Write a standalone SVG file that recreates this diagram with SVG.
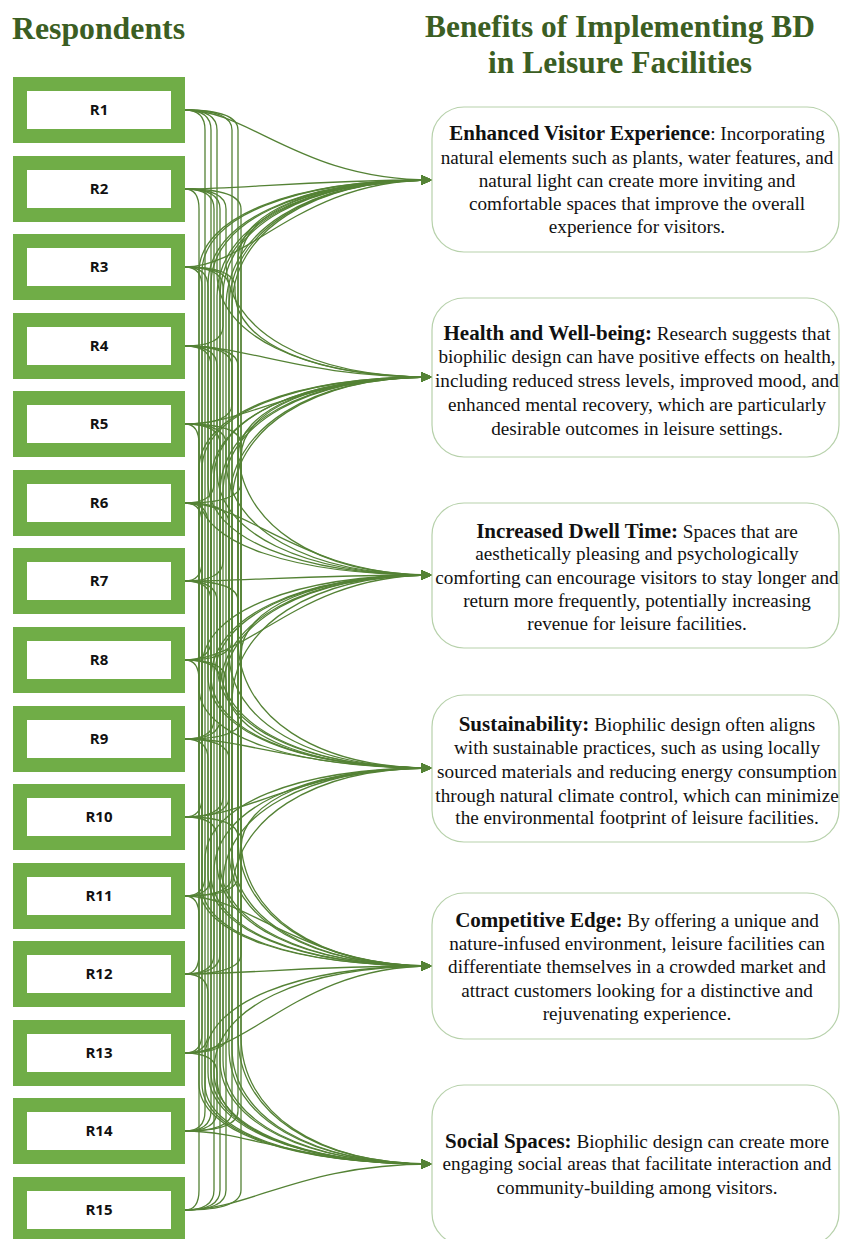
<svg xmlns="http://www.w3.org/2000/svg" width="841" height="1239" viewBox="0 0 841 1239">
  <style>
    .title{font-family:"Liberation Serif","Times New Roman",serif;font-weight:bold;fill:#3B5E23}
    .resp rect{fill:#ffffff;stroke:#70AD47;stroke-width:14}
    .resp text{font-family:"Open Sans","Liberation Sans",sans-serif;font-weight:bold;font-size:15px;fill:#111;text-anchor:middle}
    .ben rect{fill:#ffffff;stroke:#B7D1AB;stroke-width:1.2}
    .ben text{font-family:"Liberation Serif","Times New Roman",serif;font-size:19.2px;fill:#111;text-anchor:middle}
    .b{font-weight:bold;font-size:21px}
    .c path{fill:none;stroke:#548235;stroke-width:1.3;marker-end:url(#ah)}
  </style>
  <defs>
    <marker id="ah" markerUnits="userSpaceOnUse" markerWidth="11" markerHeight="10" refX="11" refY="5" orient="auto">
      <path d="M0,0 L11,5 L0,10 z" fill="#548235"/>
    </marker>
  </defs>
  <rect width="841" height="1239" fill="#ffffff"/>

  <!-- headings -->
  <text class="title" x="12" y="39" font-size="32" textLength="173" lengthAdjust="spacingAndGlyphs">Respondents</text>
  <text class="title" x="425" y="37" font-size="32" textLength="390" lengthAdjust="spacingAndGlyphs">Benefits of Implementing BD</text>
  <text class="title" x="488" y="73" font-size="32" textLength="264" lengthAdjust="spacingAndGlyphs">in Leisure Facilities</text>

  <!-- connectors: every respondent to every benefit; each runs down a trunk beside the boxes, then sweeps into the arrow -->
  <g id="connectors" class="c">
    <!-- to Enhanced Visitor Experience -->
    <path d="M185,110C250,110 300,180 432,180"/>
    <path d="M185,189C250,189 300,180 432,180"/>
    <path d="M185,267C250,267 300,180 432,180"/>
    <path d="M185,346Q223,346 223,326L223,296C223,226 307,180 432,180"/>
    <path d="M185,424Q232,424 232,404L232,308C232,231 312,180 432,180"/>
    <path d="M185,503Q241,503 241,483L241,260C241,212 317,180 432,180"/>
    <path d="M185,581Q202,581 202,561L202,272C202,217 294,180 432,180"/>
    <path d="M185,660Q211,660 211,640L211,284C211,222 299,180 432,180"/>
    <path d="M185,739Q220,739 220,719L220,296C220,226 305,180 432,180"/>
    <path d="M185,817Q229,817 229,797L229,308C229,231 310,180 432,180"/>
    <path d="M185,896Q238,896 238,876L238,260C238,212 316,180 432,180"/>
    <path d="M185,974Q199,974 199,954L199,272C199,217 292,180 432,180"/>
    <path d="M185,1053Q208,1053 208,1033L208,284C208,222 298,180 432,180"/>
    <path d="M185,1131Q217,1131 217,1111L217,296C217,226 303,180 432,180"/>
    <path d="M185,1210Q226,1210 226,1190L226,308C226,231 308,180 432,180"/>

    <!-- to Health and Well-being -->
    <path d="M185,110Q217,110 217,130L217,273C217,335 303,377 432,377"/>
    <path d="M185,189Q226,189 226,209L226,261C226,331 308,377 432,377"/>
    <path d="M185,267Q235,267 235,287L235,292C235,343 314,377 432,377"/>
    <path d="M185,346C250,346 300,377 432,377"/>
    <path d="M185,424C250,424 300,377 432,377"/>
    <path d="M185,503Q214,503 214,483L214,478C214,417 301,377 432,377"/>
    <path d="M185,581Q223,581 223,561L223,493C223,423 307,377 432,377"/>
    <path d="M185,660Q232,660 232,640L232,505C232,428 312,377 432,377"/>
    <path d="M185,739Q241,739 241,719L241,457C241,409 317,377 432,377"/>
    <path d="M185,817Q202,817 202,797L202,469C202,414 294,377 432,377"/>
    <path d="M185,896Q211,896 211,876L211,481C211,419 299,377 432,377"/>
    <path d="M185,974Q220,974 220,954L220,493C220,423 305,377 432,377"/>
    <path d="M185,1053Q229,1053 229,1033L229,505C229,428 310,377 432,377"/>
    <path d="M185,1131Q238,1131 238,1111L238,457C238,409 316,377 432,377"/>
    <path d="M185,1210Q199,1210 199,1190L199,469C199,414 292,377 432,377"/>

    <!-- to Increased Dwell Time -->
    <path d="M185,110Q238,110 238,130L238,447C238,524 316,575 432,575"/>
    <path d="M185,189Q199,189 199,209L199,495C199,543 292,575 432,575"/>
    <path d="M185,267Q208,267 208,287L208,483C208,538 298,575 432,575"/>
    <path d="M185,346Q217,346 217,366L217,471C217,533 303,575 432,575"/>
    <path d="M185,424Q226,424 226,444L226,459C226,529 308,575 432,575"/>
    <path d="M185,503C250,503 300,575 432,575"/>
    <path d="M185,581C250,581 300,575 432,575"/>
    <path d="M185,660C250,660 300,575 432,575"/>
    <path d="M185,739Q214,739 214,719L214,679C214,617 301,575 432,575"/>
    <path d="M185,817Q223,817 223,797L223,691C223,621 307,575 432,575"/>
    <path d="M185,896Q232,896 232,876L232,703C232,626 312,575 432,575"/>
    <path d="M185,974Q241,974 241,954L241,655C241,607 317,575 432,575"/>
    <path d="M185,1053Q202,1053 202,1033L202,667C202,612 294,575 432,575"/>
    <path d="M185,1131Q211,1131 211,1111L211,679C211,617 299,575 432,575"/>
    <path d="M185,1210Q220,1210 220,1190L220,691C220,621 305,575 432,575"/>

    <!-- to Sustainability -->
    <path d="M185,110Q211,110 211,130L211,676C211,731 299,768 432,768"/>
    <path d="M185,189Q220,189 220,209L220,664C220,726 305,768 432,768"/>
    <path d="M185,267Q229,267 229,287L229,652C229,722 310,768 432,768"/>
    <path d="M185,346Q238,346 238,366L238,640C238,717 316,768 432,768"/>
    <path d="M185,424Q199,424 199,444L199,688C199,736 292,768 432,768"/>
    <path d="M185,503Q208,503 208,523L208,676C208,731 298,768 432,768"/>
    <path d="M185,581Q217,581 217,601L217,664C217,726 303,768 432,768"/>
    <path d="M185,660Q226,660 226,680L226,685C226,735 308,768 432,768"/>
    <path d="M185,739C250,739 300,768 432,768"/>
    <path d="M185,817C250,817 300,768 432,768"/>
    <path d="M185,896Q205,896 205,876L205,860C205,805 296,768 432,768"/>
    <path d="M185,974Q214,974 214,954L214,872C214,810 301,768 432,768"/>
    <path d="M185,1053Q223,1053 223,1033L223,884C223,814 307,768 432,768"/>
    <path d="M185,1131Q232,1131 232,1111L232,896C232,819 312,768 432,768"/>
    <path d="M185,1210Q241,1210 241,1190L241,848C241,800 317,768 432,768"/>

    <!-- to Competitive Edge -->
    <path d="M185,110Q232,110 232,130L232,850C232,920 312,966 432,966"/>
    <path d="M185,189Q241,189 241,209L241,838C241,915 317,966 432,966"/>
    <path d="M185,267Q202,267 202,287L202,886C202,934 294,966 432,966"/>
    <path d="M185,346Q211,346 211,366L211,874C211,929 299,966 432,966"/>
    <path d="M185,424Q220,424 220,444L220,862C220,924 305,966 432,966"/>
    <path d="M185,503Q229,503 229,523L229,850C229,920 310,966 432,966"/>
    <path d="M185,581Q238,581 238,601L238,838C238,915 316,966 432,966"/>
    <path d="M185,660Q199,660 199,680L199,886C199,934 292,966 432,966"/>
    <path d="M185,739Q208,739 208,759L208,874C208,929 298,966 432,966"/>
    <path d="M185,817Q217,817 217,837L217,862C217,924 303,966 432,966"/>
    <path d="M185,896C250,896 300,966 432,966"/>
    <path d="M185,974C250,974 300,966 432,966"/>
    <path d="M185,1053C250,1053 300,966 432,966"/>
    <path d="M185,1131Q205,1131 205,1111L205,1058C205,1003 296,966 432,966"/>
    <path d="M185,1210Q214,1210 214,1190L214,1070C214,1008 301,966 432,966"/>

    <!-- to Social Spaces -->
    <path d="M185,110Q205,110 205,130L205,1084C205,1132 296,1164 432,1164"/>
    <path d="M185,189Q214,189 214,209L214,1072C214,1127 301,1164 432,1164"/>
    <path d="M185,267Q223,267 223,287L223,1060C223,1122 307,1164 432,1164"/>
    <path d="M185,346Q232,346 232,366L232,1048C232,1118 312,1164 432,1164"/>
    <path d="M185,424Q241,424 241,444L241,1036C241,1113 317,1164 432,1164"/>
    <path d="M185,503Q202,503 202,523L202,1084C202,1132 294,1164 432,1164"/>
    <path d="M185,581Q211,581 211,601L211,1072C211,1127 299,1164 432,1164"/>
    <path d="M185,660Q220,660 220,680L220,1060C220,1122 305,1164 432,1164"/>
    <path d="M185,739Q229,739 229,759L229,1048C229,1118 310,1164 432,1164"/>
    <path d="M185,817Q238,817 238,837L238,1036C238,1113 316,1164 432,1164"/>
    <path d="M185,896Q199,896 199,916L199,1084C199,1132 292,1164 432,1164"/>
    <path d="M185,974Q208,974 208,994L208,1072C208,1127 298,1164 432,1164"/>
    <path d="M185,1053Q217,1053 217,1073L217,1078C217,1130 303,1164 432,1164"/>
    <path d="M185,1131C250,1131 300,1164 432,1164"/>
    <path d="M185,1210C250,1210 300,1164 432,1164"/>
  </g>

  <!-- respondents -->
  <g id="R1" class="resp"><rect x="20" y="84" width="158" height="52"/><text x="99" y="115">R1</text></g>
  <g id="R2" class="resp"><rect x="20" y="163" width="158" height="52"/><text x="99" y="194">R2</text></g>
  <g id="R3" class="resp"><rect x="20" y="241" width="158" height="52"/><text x="99" y="272">R3</text></g>
  <g id="R4" class="resp"><rect x="20" y="320" width="158" height="52"/><text x="99" y="351">R4</text></g>
  <g id="R5" class="resp"><rect x="20" y="398" width="158" height="52"/><text x="99" y="429">R5</text></g>
  <g id="R6" class="resp"><rect x="20" y="477" width="158" height="52"/><text x="99" y="508">R6</text></g>
  <g id="R7" class="resp"><rect x="20" y="555" width="158" height="52"/><text x="99" y="586">R7</text></g>
  <g id="R8" class="resp"><rect x="20" y="634" width="158" height="52"/><text x="99" y="665">R8</text></g>
  <g id="R9" class="resp"><rect x="20" y="713" width="158" height="52"/><text x="99" y="744">R9</text></g>
  <g id="R10" class="resp"><rect x="20" y="791" width="158" height="52"/><text x="99" y="822">R10</text></g>
  <g id="R11" class="resp"><rect x="20" y="870" width="158" height="52"/><text x="99" y="901">R11</text></g>
  <g id="R12" class="resp"><rect x="20" y="948" width="158" height="52"/><text x="99" y="979">R12</text></g>
  <g id="R13" class="resp"><rect x="20" y="1027" width="158" height="52"/><text x="99" y="1058">R13</text></g>
  <g id="R14" class="resp"><rect x="20" y="1105" width="158" height="52"/><text x="99" y="1136">R14</text></g>
  <g id="R15" class="resp"><rect x="20" y="1184" width="158" height="52"/><text x="99" y="1215">R15</text></g>

  <!-- benefits -->
  <g id="B1" class="ben">
    <rect x="432" y="107" width="407" height="145" rx="32"/>
    <text x="637" y="140"><tspan class="b">Enhanced Visitor Experience</tspan>: Incorporating</text>
    <text x="637" y="164">natural elements such as plants, water features, and</text>
    <text x="637" y="187">natural light can create more inviting and</text>
    <text x="637" y="210">comfortable spaces that improve the overall</text>
    <text x="637" y="233">experience for visitors.</text>
  </g>
  <g id="B2" class="ben">
    <rect x="432" y="298" width="407" height="159" rx="32"/>
    <text x="637" y="340"><tspan class="b">Health and Well-being:</tspan> Research suggests that</text>
    <text x="637" y="363">biophilic design can have positive effects on health,</text>
    <text x="637" y="387">including reduced stress levels, improved mood, and</text>
    <text x="637" y="411">enhanced mental recovery, which are particularly</text>
    <text x="637" y="435">desirable outcomes in leisure settings.</text>
  </g>
  <g id="B3" class="ben">
    <rect x="432" y="503" width="407" height="145" rx="32"/>
    <text x="637" y="538"><tspan class="b">Increased Dwell Time:</tspan> Spaces that are</text>
    <text x="637" y="560">aesthetically pleasing and psychologically</text>
    <text x="637" y="584">comforting can encourage visitors to stay longer and</text>
    <text x="637" y="607">return more frequently, potentially increasing</text>
    <text x="637" y="630">revenue for leisure facilities.</text>
  </g>
  <g id="B4" class="ben">
    <rect x="432" y="695" width="407" height="147" rx="32"/>
    <text x="637" y="731"><tspan class="b">Sustainability:</tspan> Biophilic design often aligns</text>
    <text x="637" y="754">with sustainable practices, such as using locally</text>
    <text x="637" y="778">sourced materials and reducing energy consumption</text>
    <text x="637" y="802">through natural climate control, which can minimize</text>
    <text x="637" y="824">the environmental footprint of leisure facilities.</text>
  </g>
  <g id="B5" class="ben">
    <rect x="432" y="893" width="407" height="146" rx="32"/>
    <text x="637" y="927"><tspan class="b">Competitive Edge:</tspan> By offering a unique and</text>
    <text x="637" y="950">nature-infused environment, leisure facilities can</text>
    <text x="637" y="973">differentiate themselves in a crowded market and</text>
    <text x="637" y="997">attract customers looking for a distinctive and</text>
    <text x="637" y="1020">rejuvenating experience.</text>
  </g>
  <g id="B6" class="ben">
    <rect x="432" y="1085" width="407" height="160" rx="32"/>
    <text x="637" y="1148"><tspan class="b">Social Spaces:</tspan> Biophilic design can create more</text>
    <text x="637" y="1170">engaging social areas that facilitate interaction and</text>
    <text x="637" y="1194">community-building among visitors.</text>
  </g>
</svg>
